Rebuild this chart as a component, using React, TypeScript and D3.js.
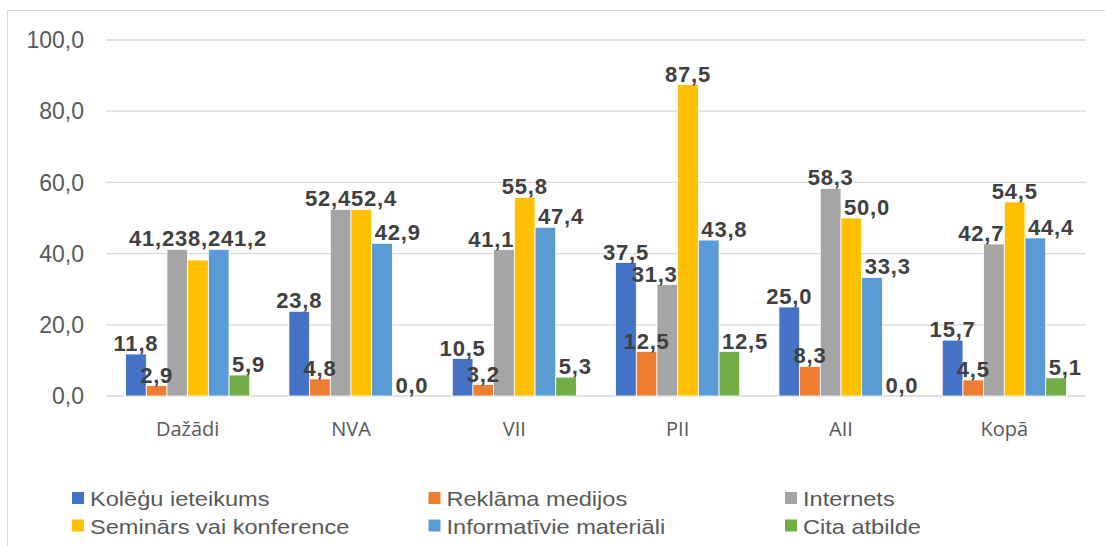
import * as d3 from 'd3';

// Chart data
const categories = ['Dažādi', 'NVA', 'VII', 'PII', 'AII', 'Kopā'];
const seriesNames = [
  'Kolēģu ieteikums',
  'Reklāma medijos',
  'Internets',
  'Seminārs vai konference',
  'Informatīvie materiāli',
  'Cita atbilde',
];
const kolegu = [11.8, 23.8, 10.5, 37.5, 25.0, 15.7];
const reklama = [2.9, 4.8, 3.2, 12.5, 8.3, 4.5];
const internets = [41.2, 52.4, 41.1, 31.3, 58.3, 42.7];
const seminars = [38.2, 52.4, 55.8, 87.5, 50.0, 54.5];
const informativie = [41.2, 42.9, 47.4, 43.8, 33.3, 44.4];
const cita = [5.9, 0.0, 5.3, 12.5, 0.0, 5.1];
const yTicks = [0, 20, 40, 60, 80, 100];

const seriesValues = [kolegu, reklama, internets, seminars, informativie, cita];
const colors = ['#4472C4', '#ED7D31', '#A5A5A5', '#FFC000', '#5B9BD5', '#70AD47'];

const W = 1105;
const H = 546;
const plot = { left: 106, right: 1086, top: 40, bottom: 396 };

const labelFont = 'bold 22px "Liberation Sans", Arial, sans-serif';
const labelSpacing = 0.8;
const capH = 16;

const fmt = (v: number) => v.toFixed(1).replace('.', ',');

let ctx: CanvasRenderingContext2D | null = null;
function measure(text: string) {
  if (!ctx) ctx = document.createElement('canvas').getContext('2d');
  if (!ctx) return text.length * 12;
  ctx.font = labelFont;
  return ctx.measureText(text).width + labelSpacing * text.length;
}

const x0 = d3.scaleBand<string>().domain(categories).range([plot.left, plot.right]).paddingInner(0.24).paddingOuter(0.12);
const x1 = d3.scaleBand<number>().domain(d3.range(seriesNames.length)).range([0, x0.bandwidth()]);
const y = d3.scaleLinear().domain([0, 100]).range([plot.bottom, plot.top]);

type Lbl = { text: string; w: number; cx: number; base: number };

// Place labels roughly the way Excel does: step off taller neighbour bars, then spread clashes
function layoutLabels(ci: number): Lbl[] {
  const bars = seriesValues.map((vals, j) => {
    const left = (x0(categories[ci]) as number) + (x1(j) as number);
    return { left, right: left + x1.bandwidth(), top: y(vals[ci]) };
  });
  const labels: Lbl[] = seriesValues.map((vals, j) => {
    const text = fmt(vals[ci]);
    const w = measure(text);
    const b = bars[j];
    let cx = (b.left + b.right) / 2;
    const base = b.top - 3;
    const l = cx - w / 2, r = cx + w / 2;
    const lb = bars[j - 1], rb = bars[j + 1];
    const hitL = !!lb && lb.top < base && l < lb.right;
    const hitR = !!rb && rb.top < base && r > rb.left;
    if (hitL && !hitR) cx = lb.right + w / 2 + 3;
    else if (hitR && !hitL) cx = rb.left - w / 2;
    return { text, w, cx, base };
  });

  const overlap = (a: Lbl, b: Lbl) =>
    Math.abs(a.cx - b.cx) < (a.w + b.w) / 2 - 1 && Math.abs(a.base - b.base) < capH;

  for (let guard = 0; guard < 10; guard++) {
    let seed = -1;
    for (let i = 0; i < labels.length && seed < 0; i++)
      for (let j = i + 1; j < labels.length; j++) if (overlap(labels[i], labels[j])) { seed = i; break; }
    if (seed < 0) break;
    const group = new Set<number>([seed]);
    let grew = true;
    while (grew) {
      grew = false;
      labels.forEach((lab, k) => {
        if (group.has(k)) return;
        for (const g of group) if (overlap(labels[g], lab)) { group.add(k); grew = true; break; }
      });
    }
    const idx = [...group].sort((a, b) => a - b);
    const mid = d3.mean(idx, (k) => labels[k].cx) as number;
    const base = d3.min(idx, (k) => labels[k].base) as number;
    const total = d3.sum(idx, (k) => labels[k].w);
    let x = mid - total / 2;
    idx.forEach((k) => {
      labels[k].cx = x + labels[k].w / 2;
      labels[k].base = base;
      x += labels[k].w;
    });
  }
  return labels;
}

export default function App() {
  const legendCol = d3.scalePoint<number>().domain([0, 1, 2]).range([72, 785]);
  const legendRow = d3.scalePoint<number>().domain([0, 1]).range([492, 519.5]);

  return (
    <svg width={W} height={H} style={{ position: 'absolute', left: 0, top: 0, background: '#fff' }}>
      <rect x={7.5} y={10.5} width={1110} height={560} fill="#fff" stroke="#D9D9D9" strokeWidth={1} />

      {/* grid + y ticks */}
      {yTicks.map((t) => (
        <g key={t}>
          <line x1={plot.left} x2={plot.right} y1={y(t)} y2={y(t)} stroke="#D9D9D9" strokeWidth={1.3} />
          <text x={84} y={y(t)} dy="0.36em" textAnchor="end" fontSize={23} fill="#595959"
            fontFamily='"Liberation Sans", Arial, sans-serif'>{fmt(t)}</text>
        </g>
      ))}

      {/* bars */}
      {categories.map((c, ci) => (
        <g key={c} transform={`translate(${x0(c)},0)`}>
          {seriesValues.map((vals, j) => (
            <rect key={j} x={x1(j)} y={y(vals[ci])} width={x1.bandwidth()}
              height={plot.bottom - y(vals[ci])} fill={colors[j]} stroke="#fff" strokeWidth={0.8} />
          ))}
        </g>
      ))}

      {/* category labels */}
      {categories.map((c) => (
        <text key={c} x={(x0(c) as number) + x0.bandwidth() / 2} y={436} textAnchor="middle"
          fontSize={20} fill="#595959" fontFamily='"Open Sans", "Noto Sans", sans-serif'>{c}</text>
      ))}

      {/* data labels */}
      {categories.map((c, ci) => (
        <g key={c}>
          {layoutLabels(ci).map((lab, j) => (
            <text key={j} x={lab.cx} y={lab.base} textAnchor="middle" fontSize={22} fontWeight="bold"
              letterSpacing={labelSpacing} fill="#404040"
              fontFamily='"Liberation Sans", Arial, sans-serif'>{lab.text}</text>
          ))}
        </g>
      ))}

      {/* legend */}
      {seriesNames.map((name, j) => {
        const lx = legendCol(j % 3) as number;
        const ly = legendRow(Math.floor(j / 3)) as number;
        return (
          <g key={name}>
            <rect x={lx} y={ly} width={12} height={12} fill={colors[j]} />
            <text transform={`translate(${lx + 18},${ly + 14}) scale(1.15,1)`} fontSize={20.5} fill="#595959"
              fontFamily='"Liberation Sans", Arial, sans-serif'>{name}</text>
          </g>
        );
      })}
    </svg>
  );
}
